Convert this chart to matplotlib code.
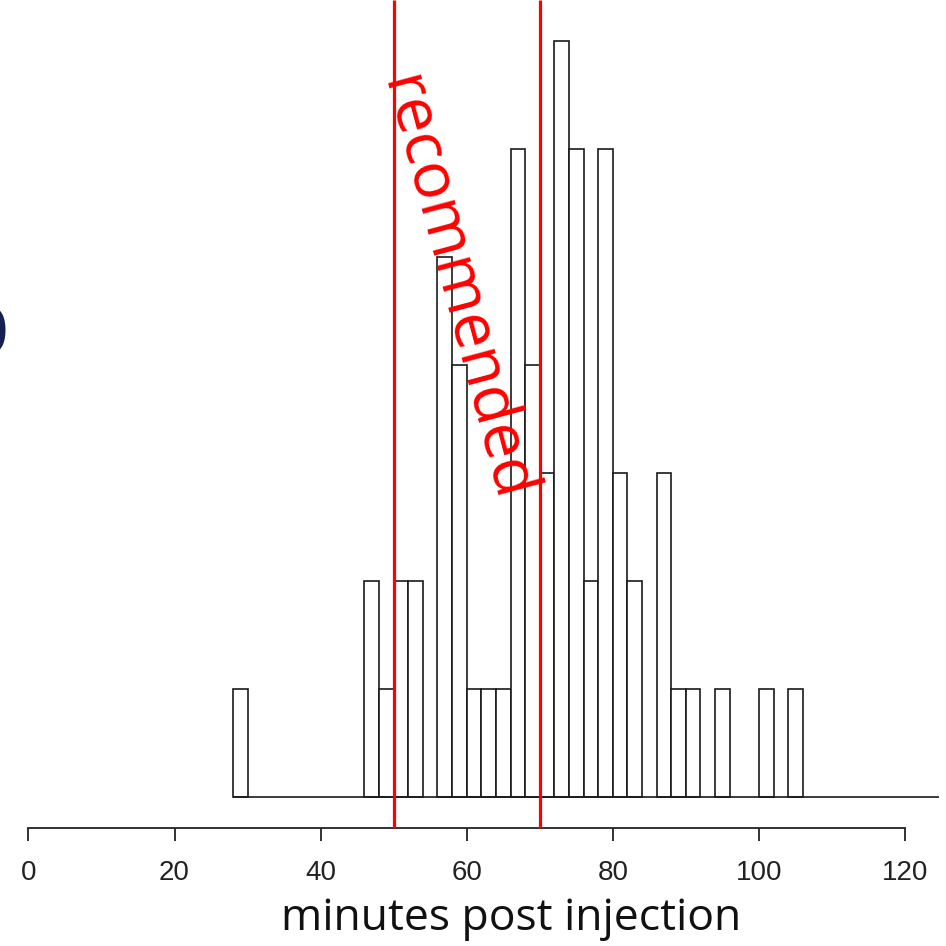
import matplotlib
matplotlib.use("Agg")
import matplotlib.pyplot as plt

# Histogram data (2-minute bins)
bin_left = [28, 30, 32, 34, 36, 38, 40, 42, 44, 46, 48, 50, 52, 54, 56, 58, 60, 62, 64,
            66, 68, 70, 72, 74, 76, 78, 80, 82, 84, 86, 88, 90, 92, 94, 96, 98, 100, 102, 104]
counts = [1, 0, 0, 0, 0, 0, 0, 0, 0, 2, 1, 2, 2, 0, 5, 4, 1, 1, 1,
          6, 4, 3, 7, 6, 2, 6, 3, 2, 0, 3, 1, 1, 0, 1, 0, 0, 1, 0, 1]
bin_width = 2
recommended = [50, 70]
xticks = [0, 20, 40, 60, 80, 100, 120]
xlabel = "minutes post injection"
note = "recommended"

W = H = 946
fig = plt.figure(figsize=(W / 100, H / 100), dpi=100)
ax = fig.add_axes([0, 0, 1, 1])

px_per_x = 7.305
x0_px = 28.4
px_per_count = 108
base_px = 797
xmin = -x0_px / px_per_x
xmax = (W - x0_px) / px_per_x
ymax = base_px / px_per_count
ymin = -(H - base_px) / px_per_count
ax.set_xlim(xmin, xmax)
ax.set_ylim(ymin, ymax)
ax.patch.set_visible(False)

bl = [b for b, c in zip(bin_left, counts) if c > 0]
bc = [c for c in counts if c > 0]
ax.bar(bl, bc, width=bin_width, align='edge', facecolor='white',
       edgecolor='#1a1a1a', linewidth=1.2, zorder=2)
ax.hlines(0, bin_left[0], 124.6, color='#1a1a1a', linewidth=1.2, zorder=2)

axis_y = -(828 - base_px) / px_per_count
ax.vlines(recommended, axis_y, ymax, color='#ff0000', linewidth=2.3, zorder=3)

# x axis
for s in ['top', 'right', 'left']:
    ax.spines[s].set_visible(False)
ax.spines['bottom'].set_position(('data', axis_y))
ax.spines['bottom'].set_bounds(xticks[0], xticks[-1])
ax.spines['bottom'].set_linewidth(1.3)
ax.spines['bottom'].set_color('#222222')
ax.set_yticks([])
ax.set_xticks(xticks)
ax.set_xticklabels([str(t) for t in xticks],
                   fontfamily=['Liberation Sans Narrow', 'Liberation Sans', 'DejaVu Sans'],
                   fontsize=20, color='#222222')
ax.tick_params(axis='x', direction='out', length=9, width=1.3, pad=14, color='#222222')
ax.set_xlabel(xlabel, fontfamily=['Open Sans', 'DejaVu Sans'], fontsize=32,
              color='#111111')
ax.xaxis.set_label_coords(((511 - x0_px) / px_per_x - xmin) / (xmax - xmin), 1 - 919 / H)
ax.xaxis.label.set_va('center')

# rotated annotation
ax.text((455 - x0_px) / px_per_x, (base_px - 289) / px_per_count, note,
        rotation=-75, rotation_mode='anchor', ha='center', va='center',
        color='#ff0000', fontsize=46, fontfamily=['Open Sans', 'DejaVu Sans'], zorder=4)

# cropped slide-title fragment at left edge
fig.text(-0.012, 1 - 336 / H, "0", fontsize=46, fontfamily='DejaVu Serif',
         color='#14204f', ha='center', va='center')

fig.savefig("out.png", dpi=100)
